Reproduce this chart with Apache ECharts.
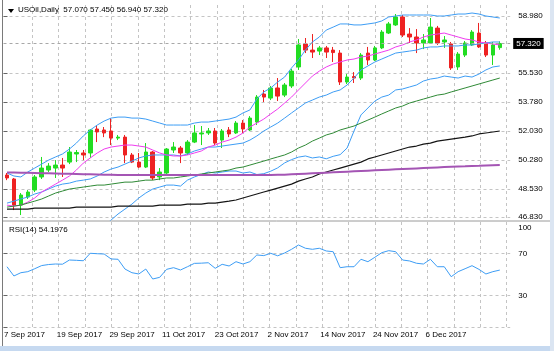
<!DOCTYPE html>
<html>
<head>
<meta charset="utf-8">
<script src="https://cdn.jsdelivr.net/npm/echarts@6/dist/echarts.min.js"></script>
<style>
  html, body { margin: 0; padding: 0; background: #fff; }
  #chart { width: 554px; height: 351px; }
</style>
</head>
<body>
<div id="chart"></div>
<script>
// daily bars, 7 Sep - 15 Dec 2017
const dates = [
  '2017-09-07','2017-09-08','2017-09-11','2017-09-12','2017-09-13','2017-09-14','2017-09-15','2017-09-18','2017-09-19','2017-09-20',
  '2017-09-21','2017-09-22','2017-09-25','2017-09-26','2017-09-27','2017-09-28','2017-09-29','2017-10-02','2017-10-03','2017-10-04',
  '2017-10-05','2017-10-06','2017-10-09','2017-10-10','2017-10-11','2017-10-12','2017-10-13','2017-10-16','2017-10-17','2017-10-18',
  '2017-10-19','2017-10-20','2017-10-23','2017-10-24','2017-10-25','2017-10-26','2017-10-27','2017-10-30','2017-10-31','2017-11-01',
  '2017-11-02','2017-11-03','2017-11-06','2017-11-07','2017-11-08','2017-11-09','2017-11-10','2017-11-13','2017-11-14','2017-11-15',
  '2017-11-16','2017-11-17','2017-11-20','2017-11-21','2017-11-22','2017-11-23','2017-11-24','2017-11-27','2017-11-28','2017-11-29',
  '2017-11-30','2017-12-01','2017-12-04','2017-12-05','2017-12-06','2017-12-07','2017-12-08','2017-12-11','2017-12-12','2017-12-13',
  '2017-12-14','2017-12-15'
];

// [open, close, low, high]
const ohlc = [
  [49.37, 49.19, 49.06, 49.49], [49.13, 47.55, 47.25, 49.19], [47.55, 48.16, 46.95, 48.28], [48.04, 48.34, 47.92, 48.46],
  [48.46, 49.25, 48.34, 49.37], [49.25, 49.79, 49.13, 50.46], [49.67, 49.91, 49.55, 50.09], [49.79, 49.97, 49.19, 50.27],
  [49.97, 49.79, 49.25, 50.40], [50.15, 50.76, 50.03, 51.06], [50.64, 50.73, 50.15, 50.88], [50.70, 50.58, 50.27, 50.88],
  [50.70, 52.09, 50.40, 52.15], [52.15, 51.97, 51.36, 52.39], [52.09, 51.91, 51.66, 52.27], [52.03, 51.60, 51.18, 52.81],
  [51.60, 51.66, 51.48, 51.79], [51.66, 50.58, 50.09, 51.79], [50.58, 50.15, 50.09, 50.70], [50.15, 49.85, 49.79, 50.70],
  [49.85, 50.76, 49.79, 51.30], [50.76, 49.19, 49.06, 50.82], [49.25, 49.55, 49.06, 49.79], [49.49, 50.94, 49.43, 51.00],
  [50.88, 51.06, 50.70, 51.36], [51.00, 50.70, 50.09, 51.12], [50.70, 51.36, 50.58, 51.48], [51.36, 51.91, 51.30, 52.39],
  [51.85, 51.91, 51.18, 52.33], [51.91, 52.03, 51.79, 52.21], [52.03, 51.30, 51.18, 52.21], [51.48, 52.03, 51.00, 52.15],
  [52.09, 51.85, 51.66, 52.27], [51.91, 52.51, 51.85, 52.63], [52.51, 52.15, 51.91, 52.69], [52.09, 52.81, 52.03, 52.93],
  [52.57, 54.08, 52.39, 54.20], [54.26, 54.08, 53.78, 54.51], [54.02, 54.63, 53.90, 54.75], [54.63, 54.14, 53.84, 55.23],
  [54.20, 54.81, 54.08, 54.93], [54.75, 55.65, 54.63, 55.78], [55.90, 57.23, 55.72, 57.59], [57.29, 56.92, 56.74, 57.65],
  [56.92, 56.80, 56.44, 57.89], [56.86, 57.05, 56.62, 57.17], [57.05, 56.80, 56.44, 57.17], [56.92, 56.77, 56.20, 57.11],
  [56.74, 54.99, 54.81, 56.92], [54.99, 55.29, 54.87, 55.47], [55.32, 55.23, 54.93, 55.59], [55.23, 56.62, 55.11, 56.74],
  [56.74, 56.32, 56.02, 57.11], [56.32, 57.05, 56.26, 57.17], [57.05, 58.01, 56.98, 58.13], [57.95, 58.50, 57.89, 58.62],
  [58.44, 58.92, 58.38, 59.10], [58.92, 57.83, 57.71, 59.04], [57.89, 57.71, 57.35, 58.25], [57.71, 57.35, 56.74, 58.19],
  [57.35, 57.53, 56.98, 57.89], [57.35, 58.31, 57.29, 58.86], [58.25, 57.35, 57.23, 58.38], [57.41, 57.53, 57.05, 57.77],
  [57.29, 55.84, 55.72, 57.41], [55.90, 56.68, 55.72, 56.80], [56.62, 57.35, 56.50, 57.47], [57.23, 58.01, 57.17, 58.13],
  [57.95, 57.11, 57.05, 58.56], [57.35, 56.62, 56.50, 57.47], [56.62, 57.23, 56.02, 57.41], [57.07, 57.32, 56.94, 57.45]
];

// Bollinger bands (blue)
const bbUpper = [
  49.49, 49.31, 49.25, 49.55, 49.79, 50.03, 50.27, 50.46, 50.64, 50.94,
  51.30, 51.73, 52.09, 52.39, 52.63, 52.81, 52.87, 52.87, 52.81, 52.81,
  52.75, 52.63, 52.51, 52.39, 52.39, 52.39, 52.39, 52.51, 52.57, 52.57,
  52.63, 52.69, 52.75, 52.87, 53.12, 53.30, 53.96, 54.39, 54.63, 54.99,
  55.29, 55.84, 56.32, 56.92, 57.41, 57.71, 58.13, 58.31, 58.50, 58.50,
  58.44, 58.44, 58.50, 58.56, 58.68, 58.92, 58.98, 59.04, 59.04, 59.04,
  59.04, 59.04, 58.98, 58.98, 59.04, 59.10, 59.10, 59.16, 59.10, 58.98,
  58.92, 58.86
];
const bbMiddle = [
  47.67, 47.79, 47.92, 48.04, 48.22, 48.34, 48.52, 48.70, 48.82, 48.88,
  49.00, 49.06, 49.13, 49.31, 49.55, 49.73, 49.85, 50.03, 50.21, 50.40,
  50.52, 50.58, 50.58, 50.58, 50.58, 50.52, 50.64, 50.82, 50.94, 51.06,
  51.06, 51.12, 51.18, 51.24, 51.30, 51.48, 51.73, 52.03, 52.27, 52.51,
  52.81, 53.12, 53.42, 53.72, 53.90, 54.08, 54.20, 54.39, 54.51, 54.81,
  55.23, 55.72, 55.96, 56.20, 56.38, 56.56, 56.74, 56.80, 56.86, 56.92,
  57.05, 57.11, 57.11, 57.17, 57.17, 57.17, 57.23, 57.23, 57.29, 57.35,
  57.41, 57.41
];
const bbLower = [
  45.86, 45.95, 46.00, 46.05, 46.10, 46.10, 46.10, 46.15, 46.15, 46.10,
  46.05, 46.00, 45.95, 46.05, 46.29, 46.65, 47.01, 47.31, 47.61, 47.98,
  48.28, 48.52, 48.64, 48.76, 48.76, 48.70, 49.06, 49.25, 49.40, 49.55,
  49.49, 49.55, 49.61, 49.61, 49.49, 49.55, 49.40, 49.45, 49.60, 49.80,
  50.10, 50.30, 50.45, 50.52, 50.40, 50.46, 50.35, 50.50, 50.60, 51.00,
  52.03, 53.00, 53.42, 53.84, 54.08, 54.20, 54.51, 54.57, 54.69, 54.81,
  55.05, 55.17, 55.23, 55.35, 55.29, 55.23, 55.35, 55.29, 55.47, 55.72,
  55.90, 55.96
];
// moving averages
const maMagenta = [
  47.55, 47.49, 47.55, 47.73, 47.98, 48.34, 48.58, 48.82, 49.06, 49.31,
  49.67, 50.09, 50.40, 50.70, 50.94, 51.06, 51.12, 51.18, 51.18, 51.12,
  51.06, 50.88, 50.70, 50.58, 50.52, 50.52, 50.58, 50.70, 50.82, 51.06,
  51.18, 51.36, 51.48, 51.66, 51.91, 52.27, 52.51, 52.75, 53.06, 53.36,
  53.72, 54.08, 54.51, 54.93, 55.35, 55.65, 55.90, 56.08, 56.20, 56.32,
  56.38, 56.50, 56.56, 56.68, 56.80, 56.92, 57.11, 57.23, 57.41, 57.53,
  57.71, 57.83, 57.89, 57.95, 57.83, 57.71, 57.59, 57.53, 57.41, 57.35,
  57.29, 57.23
];
const maGreen = [
  47.43, 47.49, 47.55, 47.67, 47.79, 47.92, 48.10, 48.28, 48.40, 48.52,
  48.58, 48.64, 48.70, 48.76, 48.76, 48.82, 48.88, 48.94, 48.94, 49.00,
  49.06, 49.06, 49.13, 49.19, 49.19, 49.25, 49.31, 49.37, 49.43, 49.49,
  49.55, 49.61, 49.67, 49.79, 49.85, 49.97, 50.09, 50.21, 50.34, 50.46,
  50.58, 50.76, 51.00, 51.18, 51.42, 51.60, 51.79, 51.91, 52.09, 52.21,
  52.33, 52.51, 52.69, 52.87, 53.06, 53.24, 53.42, 53.54, 53.72, 53.84,
  53.96, 54.08, 54.20, 54.26, 54.39, 54.51, 54.63, 54.75, 54.87, 54.99,
  55.11, 55.23
];
const maBlack = [
  47.31, 47.31, 47.31, 47.31, 47.37, 47.37, 47.37, 47.37, 47.37, 47.37,
  47.43, 47.43, 47.43, 47.43, 47.43, 47.43, 47.49, 47.49, 47.49, 47.49,
  47.49, 47.49, 47.55, 47.55, 47.55, 47.55, 47.61, 47.61, 47.61, 47.67,
  47.67, 47.73, 47.79, 47.86, 47.98, 48.10, 48.22, 48.34, 48.46, 48.58,
  48.70, 48.82, 49.00, 49.13, 49.25, 49.43, 49.55, 49.67, 49.79, 49.91,
  50.03, 50.15, 50.34, 50.46, 50.58, 50.70, 50.82, 50.94, 51.06, 51.12,
  51.24, 51.30, 51.42, 51.48, 51.54, 51.60, 51.66, 51.73, 51.85, 51.91,
  51.97, 52.03
];
const maPurple = [
  49.52, 49.52, 49.51, 49.50, 49.49, 49.48, 49.47, 49.46, 49.45, 49.44,
  49.43, 49.42, 49.41, 49.40, 49.39, 49.38, 49.37, 49.37, 49.37, 49.37,
  49.37, 49.37, 49.37, 49.37, 49.37, 49.37, 49.37, 49.37, 49.37, 49.37,
  49.37, 49.37, 49.37, 49.37, 49.37, 49.37, 49.37, 49.37, 49.37, 49.38,
  49.39, 49.41, 49.43, 49.45, 49.47, 49.49, 49.51, 49.53, 49.55, 49.57,
  49.59, 49.61, 49.63, 49.65, 49.67, 49.69, 49.71, 49.73, 49.75, 49.77,
  49.79, 49.81, 49.83, 49.85, 49.87, 49.89, 49.90, 49.92, 49.93, 49.95,
  49.96, 49.97
];
const rsi = [
  57.4, 48.6, 51.7, 52.7, 55.5, 58.5, 59.5, 60.0, 59.8, 63.8,
  63.5, 63.1, 70.2, 69.8, 69.5, 64.8, 64.5, 55.2, 51.7, 50.5,
  55.2, 45.7, 47.3, 54.9, 56.5, 54.3, 57.4, 60.6, 60.8, 61.2,
  55.9, 59.7, 58.1, 62.2, 60.0, 62.2, 68.6, 68.0, 70.2, 67.8,
  70.5, 74.0, 78.1, 75.0, 74.0, 75.0, 72.4, 71.7, 56.5, 57.4,
  57.4, 64.5, 62.2, 66.4, 70.8, 72.7, 71.7, 63.8, 62.9, 60.7,
  60.0, 64.5, 57.4, 57.4, 47.9, 52.7, 55.5, 58.4, 54.9, 50.5,
  52.7, 54.2
];

const priceTicks = [46.83, 48.53, 50.28, 52.03, 53.78, 55.53, 58.98];
const rsiTicks = [100, 70, 30];
const dateTicks = ['7 Sep 2017', '19 Sep 2017', '29 Sep 2017', '11 Oct 2017', '23 Oct 2017',
  '2 Nov 2017', '14 Nov 2017', '24 Nov 2017', '6 Dec 2017'];
const lastBar = { open: 57.07, high: 57.45, low: 56.94, close: 57.32 };
const rsiLast = 54.1976;

// layout
const FONT = '"Liberation Sans", Arial, sans-serif';
const gridLeft = 3.5;
const plotW = 506.7;
const vGrid = [];
for (let k = 1; k <= 19; k++) vGrid.push(2.5 + 26.35 * k);
const dateLabelPos = dateTicks.map((_, j) => 0.5 + 52.7 * j);
const cats = dates.concat(['']);   // one empty slot on the right

const chart = echarts.init(document.getElementById('chart'), null, { renderer: 'canvas' });

const dashed = { color: '#c4c4c4', type: [3, 3], width: 1 };
const txt = { fontSize: 8, fontFamily: FONT, color: '#000', fontWeight: 'normal' };

function hiddenCat(gi) {
  return {
    type: 'category', gridIndex: gi, data: cats, boundaryGap: true,
    axisLine: { show: false }, axisTick: { show: false }, axisLabel: { show: false }, splitLine: { show: false }
  };
}
function gridAxis(gi, withLabels) {
  return {
    type: 'value', gridIndex: gi, min: 0, max: plotW, position: 'bottom',
    axisLine: { show: false },
    axisTick: { show: false, customValues: vGrid },
    splitLine: { show: true, lineStyle: dashed },
    axisLabel: withLabels ? Object.assign({
      show: true, customValues: dateLabelPos, align: 'left', margin: 4,
      formatter: (v) => dateTicks[Math.round((v - 0.5) / 52.7)] || ''
    }, txt) : { show: false }
  };
}

function line(name, data, color, width) {
  return {
    name, type: 'line', xAxisIndex: 0, yAxisIndex: 0, data,
    symbol: 'none', silent: true, clip: true,
    lineStyle: { color, width: width || 1 }
  };
}

const option = {
  animation: false,
  backgroundColor: '#ffffff',
  title: [
    {
      text: 'USOil,Daily  ' + [lastBar.open, lastBar.high, lastBar.low, lastBar.close].map(v => v.toFixed(3)).join(' '),
      left: 18, top: 6, padding: 0, textStyle: txt
    },
    { text: 'RSI(14) ' + rsiLast.toFixed(4), left: 9, top: 226, padding: 0, textStyle: txt }
  ],
  grid: [
    { left: gridLeft, width: plotW, top: 5, height: 215 },
    { left: gridLeft, width: plotW, top: 222, height: 105 }
  ],
  xAxis: [hiddenCat(0), hiddenCat(1), gridAxis(0, false), gridAxis(1, true)],
  yAxis: [
    {
      type: 'value', gridIndex: 0, position: 'right', min: 46.65, max: 59.645,
      axisLine: { show: false },
      axisTick: { show: true, length: 4, lineStyle: { color: '#666' }, customValues: priceTicks },
      splitLine: { show: true, lineStyle: dashed },
      axisLabel: Object.assign({ customValues: priceTicks, margin: 8, formatter: (v) => v.toFixed(3) }, txt)
    },
    {
      type: 'value', gridIndex: 1, position: 'right', min: 0, max: 100,
      axisLine: { show: false },
      axisTick: { show: true, length: 4, lineStyle: { color: '#666' }, customValues: [0, 30, 70] },
      splitLine: { show: true, lineStyle: dashed },
      axisLabel: Object.assign({
        customValues: rsiTicks, margin: 8,
        formatter: (v) => v === 100 ? '{top|100}' : String(v),
        rich: { top: Object.assign({ padding: [12, 0, 0, 0] }, txt) }
      }, txt)
    }
  ],
  series: [
    {
      name: 'USOil', type: 'candlestick', xAxisIndex: 0, yAxisIndex: 0,
      data: ohlc, barWidth: 4, silent: true,
      itemStyle: { color: '#22dd22', color0: '#ee2222', borderColor: '#22dd22', borderColor0: '#ee2222', borderWidth: 1 },
      markLine: {
        silent: true, symbol: ['none', 'none'],
        data: [{ yAxis: lastBar.close }],
        lineStyle: { color: '#a8a8a8', type: [3, 3], width: 1 },
        label: {
          position: 'end', distance: 3, formatter: lastBar.close.toFixed(3),
          backgroundColor: '#000', color: '#fff', fontSize: 8, fontFamily: FONT, padding: [2, 3, 1, 3]
        }
      }
    },
    line('BB upper', bbUpper, '#3d9df5'),
    line('BB middle', bbMiddle, '#3d9df5'),
    line('BB lower', bbLower, '#3d9df5'),
    line('MA magenta', maMagenta, '#f03cf0'),
    line('MA green', maGreen, '#2f8a36'),
    line('MA black', maBlack, '#151515', 1.2),
    line('MA purple', maPurple, '#a455b4', 2),
    {
      name: 'RSI', type: 'line', xAxisIndex: 1, yAxisIndex: 1, data: rsi,
      symbol: 'none', silent: true, lineStyle: { color: '#3d9df5', width: 1 }
    }
  ],
  graphic: [
    { type: 'rect', shape: { x: 0, y: 346, width: 554, height: 5 }, style: { fill: '#c6d9f0' }, silent: true },
    { type: 'rect', shape: { x: 550, y: 0, width: 4, height: 351 }, style: { fill: '#dbe5f2' }, silent: true },
    { type: 'line', shape: { x1: 2.5, y1: 0, x2: 2.5, y2: 346 }, style: { stroke: '#7a7a7a', lineWidth: 1 }, silent: true },
    { type: 'line', shape: { x1: 3, y1: 221, x2: 550, y2: 221 }, style: { stroke: '#9a9a9a', lineWidth: 1 }, silent: true },
    { type: 'polygon', shape: { points: [[8, 9], [14, 9], [11, 13]] }, style: { fill: '#000' }, silent: true }
  ]
};

chart.setOption(option);
</script>
</body>
</html>
